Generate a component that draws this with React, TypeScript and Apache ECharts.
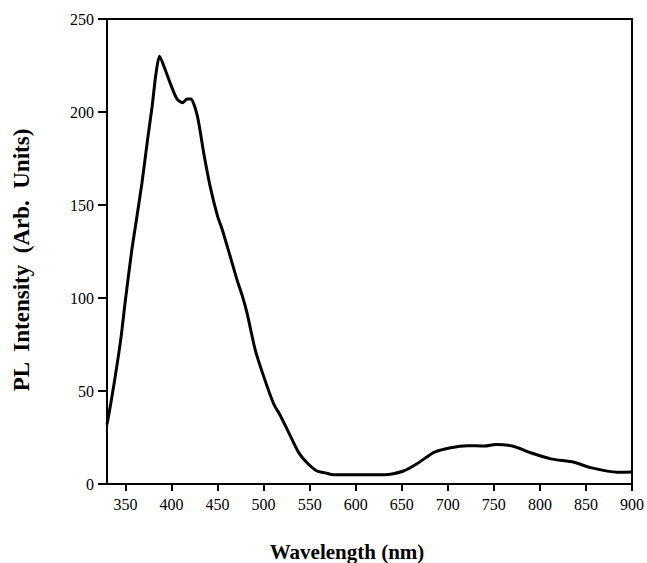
import React, { useEffect, useRef } from "react";
import * as echarts from "echarts";

const wavelength = [
  330, 334, 339, 345, 350, 357, 361, 368, 374, 379, 383, 387, 393, 399, 406, 412, 417, 421,
  428, 435, 442, 450, 455, 464, 471, 477, 482, 491, 500, 511, 518, 526, 538, 548, 558, 567,
  576, 584, 600, 620, 631, 652, 667, 685, 703, 721, 740, 752, 770, 790, 812, 837, 855, 884, 900,
];
const intensity = [
  32, 43, 58, 78, 99, 126, 139, 162, 185, 203, 220, 230, 223, 215, 207, 205, 207, 207,
  198, 178, 160, 144, 137, 122, 110, 101, 92, 72, 58, 43, 37, 29, 17, 11, 7, 6,
  5, 5, 5, 5, 5, 7, 11, 17, 19.5, 20.6, 20.4, 21.3, 20.4, 16.8, 13.5, 11.7, 8.8, 6.3, 6.4,
];
const xTicks = [350, 400, 450, 500, 550, 600, 650, 700, 750, 800, 850, 900];
const xTitle = "Wavelength (nm)";
const yTitle = "PL  Intensity  (Arb.  Units)";

const FONT = "'Liberation Serif', 'Times New Roman', serif";

export default function App() {
  const ref = useRef<HTMLDivElement>(null);
  useEffect(() => {
    if (!ref.current) return;
    const chart = echarts.init(ref.current, null, { renderer: "svg" });
    chart.setOption({
      animation: false,
      backgroundColor: "#fff",
      grid: {
        left: 107,
        right: 12,
        top: 19,
        bottom: 79,
        show: true,
        borderColor: "#000",
        borderWidth: 2,
      },
      xAxis: {
        type: "value",
        min: 330,
        max: 900,
        axisLine: { show: true, lineStyle: { color: "#000", width: 2 } },
        axisTick: { show: true, customValues: xTicks, length: 7, lineStyle: { color: "#000", width: 2 } },
        axisLabel: {
          customValues: xTicks,
          color: "#000",
          fontFamily: FONT,
          fontSize: 16,
          margin: 12,
        },
        splitLine: { show: false },
      },
      yAxis: {
        type: "value",
        min: 0,
        max: 250,
        interval: 50,
        axisLine: { show: true, lineStyle: { color: "#000", width: 2 } },
        axisTick: { show: true, length: 9, lineStyle: { color: "#000", width: 2 } },
        axisLabel: { color: "#000", fontFamily: FONT, fontSize: 16, margin: 13 },
        splitLine: { show: false },
      },
      graphic: [
        {
          type: "text",
          x: 347,
          y: 552,
          style: {
            text: xTitle,
            fontFamily: FONT,
            fontWeight: "bold",
            fontSize: 21,
            fill: "#000",
            textAlign: "center",
            textVerticalAlign: "middle",
          },
        },
        {
          type: "text",
          x: 21,
          y: 260,
          rotation: Math.PI / 2,
          style: {
            text: yTitle,
            fontFamily: FONT,
            fontWeight: "bold",
            fontSize: 23,
            fill: "#000",
            textAlign: "center",
            textVerticalAlign: "middle",
          },
        },
      ],
      series: [
        {
          type: "line",
          data: wavelength.map((w, i) => [w, intensity[i]]),
          showSymbol: false,
          smooth: 0.25,
          lineStyle: { color: "#000", width: 3 },
        },
      ],
    });
    return () => chart.dispose();
  }, []);
  return (
    <div
      ref={ref}
      style={{ position: "fixed", left: 0, top: 0, width: 647, height: 563, overflow: "hidden" }}
    />
  );
}
